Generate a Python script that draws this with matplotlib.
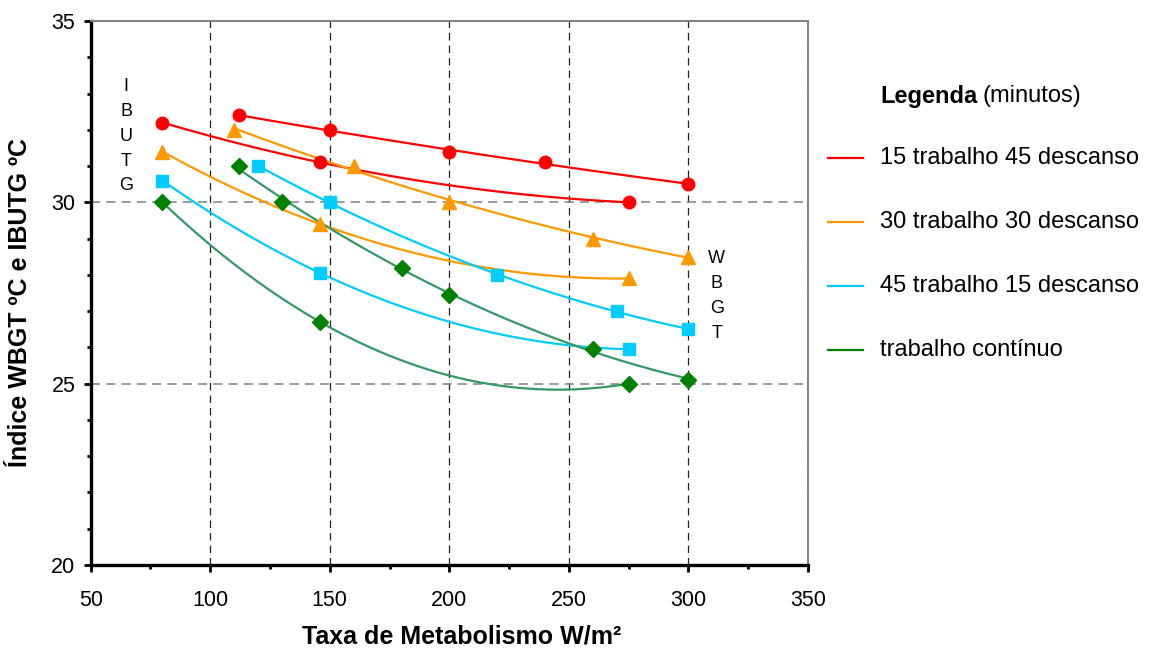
import numpy as np
import matplotlib
matplotlib.use("Agg")
import matplotlib.pyplot as plt
from matplotlib.lines import Line2D
from matplotlib.ticker import MultipleLocator

plt.rcParams['font.family'] = ['Liberation Sans', 'DejaVu Sans']

# metabolic rate (W/m2) and index values (degC) for each work/rest regime
red_wbgt_x = [112, 150, 200, 240, 300]
red_wbgt_y = [32.4, 32.0, 31.4, 31.1, 30.5]
red_ibutg_x = [80, 146, 275]
red_ibutg_y = [32.2, 31.1, 30.0]

orange_wbgt_x = [110, 160, 200, 260, 300]
orange_wbgt_y = [32.0, 31.0, 30.0, 29.0, 28.5]
orange_ibutg_x = [80, 146, 275]
orange_ibutg_y = [31.4, 29.4, 27.9]

cyan_wbgt_x = [120, 150, 220, 270, 300]
cyan_wbgt_y = [31.0, 30.0, 28.0, 27.0, 26.5]
cyan_ibutg_x = [80, 146, 275]
cyan_ibutg_y = [30.6, 28.05, 25.95]

green_wbgt_x = [112, 130, 180, 200, 260, 300]
green_wbgt_y = [31.0, 30.0, 28.2, 27.45, 25.95, 25.1]
green_ibutg_x = [80, 146, 275]
green_ibutg_y = [30.0, 26.7, 25.0]

labels = ['15 trabalho 45 descanso', '30 trabalho 30 descanso',
          '45 trabalho 15 descanso', 'trabalho contínuo']

series = [
    ('#FF0000', '#FF0000', '#FF0000', 'o', 9, [(red_wbgt_x, red_wbgt_y), (red_ibutg_x, red_ibutg_y)]),
    ('#FF9900', '#FF9900', '#FF9900', '^', 10, [(orange_wbgt_x, orange_wbgt_y), (orange_ibutg_x, orange_ibutg_y)]),
    ('#00CCFF', '#00CCFF', '#00CCFF', 's', 8.5, [(cyan_wbgt_x, cyan_wbgt_y), (cyan_ibutg_x, cyan_ibutg_y)]),
    ('#008000', '#339966', '#008000', 'D', 8, [(green_wbgt_x, green_wbgt_y), (green_ibutg_x, green_ibutg_y)]),
]

W, H = 1167, 649
fig = plt.figure(figsize=(W / 100, H / 100), dpi=100)
ax = fig.add_axes([90.7 / W, 1 - 565 / H, (808 - 90.7) / W, (565 - 21) / H])

for mcolor, lcolor, legcolor, marker, ms, curves in series:
    for xs, ys in curves:
        xs = np.array(xs, dtype=float)
        ys = np.array(ys, dtype=float)
        # second order trendline through the points
        coef = np.polyfit(xs, ys, 2)
        xf = np.linspace(xs.min(), xs.max(), 200)
        ax.plot(xf, np.polyval(coef, xf), color=lcolor, lw=1.6, zorder=3)
        ax.plot(xs, ys, ls='none', marker=marker, ms=ms, color=mcolor,
                markeredgecolor=mcolor, zorder=4)

ax.set_xlim(50, 350)
ax.set_ylim(20, 35)
ax.xaxis.set_major_locator(MultipleLocator(50))
ax.xaxis.set_minor_locator(MultipleLocator(25))
ax.yaxis.set_major_locator(MultipleLocator(5))
ax.yaxis.set_minor_locator(MultipleLocator(1))

ax.xaxis.grid(True, which='major', color='#222222', lw=0.9, ls=(0, (6, 4)))
ax.yaxis.grid(True, which='major', color='#808080', lw=1.1, ls=(0, (6, 4)))
ax.set_axisbelow(True)

for side in ['left', 'bottom']:
    ax.spines[side].set_linewidth(2.4)
    ax.spines[side].set_color('black')
for side in ['top', 'right']:
    ax.spines[side].set_linewidth(1.4)
    ax.spines[side].set_color('#808080')

ax.tick_params(which='major', direction='out', length=5, width=2, labelsize=15.5, color='black')
ax.tick_params(which='minor', direction='out', length=3, width=2, color='black')
ax.tick_params(axis='x', which='major', pad=13)
ax.tick_params(axis='y', which='major', pad=6)

fig.text(462 / W, 1 - 636 / H, 'Taxa de Metabolismo W/m²', fontsize=18,
         fontweight='bold', ha='center', va='center')
fig.text(20 / W, 1 - 302 / H, 'Índice WBGT ºC e IBUTG ºC', fontsize=18,
         fontweight='bold', ha='center', va='center', rotation=90)

ax.text(64.8, 31.82, 'I\nB\nU\nT\nG', fontsize=13, ha='center', va='center',
        multialignment='center', linespacing=1.6)
ax.text(311.9, 27.42, 'W\nB\nG\nT', fontsize=13, ha='center', va='center',
        multialignment='center', linespacing=1.6, clip_on=False)

# legend drawn at the right of the plot
fig.text(880 / W, 1 - 96 / H, 'Legenda', fontsize=17, fontweight='bold',
         ha='left', va='center')
fig.text(982 / W, 1 - 96 / H, '(minutos)', fontsize=17, ha='left', va='center')
for i, (label, s) in enumerate(zip(labels, series)):
    py = 158 + 64 * i
    fig.add_artist(Line2D([828 / W, 863 / W], [1 - py / H, 1 - py / H],
                          color=s[2], lw=1.6, transform=fig.transFigure))
    fig.text(880 / W, 1 - py / H, label, fontsize=17, ha='left', va='center')

fig.savefig('out.png', dpi=100)
